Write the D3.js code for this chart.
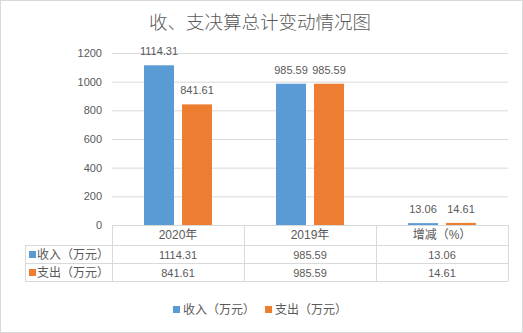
<!DOCTYPE html>
<html>
  <head>
    <meta charset="utf-8">
    <title>收、支决算总计变动情况图</title>
    <script src="https://d3js.org/d3.v7.min.js"></script>
    <style>
      body { margin: 0; background: #fff; }
      text { font-family: "Liberation Sans", "Noto Sans CJK SC", sans-serif; fill: #595959; }
    </style>
  </head>
  <body>
    <script>
      // ==================
      // data
      // ==================
      const categories = ["2020年", "2019年", "增减（%）"];
      const seriesNames = ["收入（万元）", "支出（万元）"];
      const incomeValues = [1114.31, 985.59, 13.06];
      const expenseValues = [841.61, 985.59, 14.61];
      const yTicks = [0, 200, 400, 600, 800, 1000, 1200];
      const seriesColors = ["#5B9BD5", "#ED7D31"];

      function drawChart() {
        const width = 523;
        const height = 333;
        const left = 112, right = 508, top = 53, bottom = 225;
        const rowH = 18;
        const gridColor = "#d9d9d9";
        const cjk = "'Noto Sans CJK SC', sans-serif";

        const series = [incomeValues, expenseValues];

        const svg = d3.select("body")
          .append("svg")
            .attr("width", width)
            .attr("height", height);

        svg.append("rect")
          .attr("x", 0.5).attr("y", 0.5)
          .attr("width", width - 1).attr("height", height - 1)
          .attr("fill", "#fff")
          .attr("stroke", gridColor);

        // title
        svg.append("text")
          .attr("x", 260)
          .attr("y", 29)
          .attr("text-anchor", "middle")
          .style("font-family", cjk)
          .style("font-size", "18.5px")
          .style("font-weight", 300)
          .text("收、支决算总计变动情况图");

        const x0 = d3.scaleBand()
          .domain(categories)
          .range([left, right]);

        const bw = x0.bandwidth();
        const x1 = d3.scaleBand()
          .domain(seriesNames)
          .range([bw / 2 - 34, bw / 2 + 34])
          .paddingInner(8 / 38);

        const y = d3.scaleLinear()
          .domain([0, 1200])
          .range([bottom, top]);

        // gridlines + tick labels
        const yAxis = d3.axisLeft(y)
          .tickValues(yTicks)
          .tickSize(-(right - left))
          .tickPadding(10)
          .tickFormat(d3.format("d"));

        const gy = svg.append("g")
          .attr("transform", "translate(" + left + ",0)")
          .call(yAxis);
        gy.select(".domain").remove();
        gy.selectAll(".tick line").attr("stroke", gridColor);
        gy.selectAll(".tick text")
          .attr("fill", "#595959")
          .style("font-size", "11px");

        // bars
        series.forEach(function(vals, s) {
          const g = svg.append("g");
          g.selectAll("rect")
            .data(vals)
            .enter().append("rect")
              .attr("x", function(d, i) { return x0(categories[i]) + x1(seriesNames[s]); })
              .attr("y", function(d) { return y(d); })
              .attr("width", x1.bandwidth())
              .attr("height", function(d) { return bottom - y(d); })
              .attr("fill", seriesColors[s]);

          g.selectAll("text")
            .data(vals)
            .enter().append("text")
              .attr("x", function(d, i) { return x0(categories[i]) + x1(seriesNames[s]) + x1.bandwidth() / 2; })
              .attr("y", function(d) { return y(d) - 10; })
              .attr("text-anchor", "middle")
              .style("font-size", "11px")
              .text(function(d) { return d.toFixed(2); });
        });

        // data table
        const tableLeft = 25;
        const tableBottom = bottom + 20 + rowH * 2;
        const lines = svg.append("g")
          .attr("stroke", gridColor)
          .attr("shape-rendering", "crispEdges");

        lines.append("line")
          .attr("x1", left).attr("x2", right)
          .attr("y1", bottom).attr("y2", bottom);
        [bottom + 20, bottom + 20 + rowH, tableBottom].forEach(function(yy) {
          lines.append("line")
            .attr("x1", tableLeft).attr("x2", right)
            .attr("y1", yy).attr("y2", yy);
        });
        x0.domain().forEach(function(c) {
          lines.append("line")
            .attr("x1", x0(c)).attr("x2", x0(c))
            .attr("y1", bottom).attr("y2", tableBottom);
        });
        lines.append("line")
          .attr("x1", right).attr("x2", right)
          .attr("y1", bottom).attr("y2", tableBottom);
        lines.append("line")
          .attr("x1", tableLeft).attr("x2", tableLeft)
          .attr("y1", bottom + 20).attr("y2", tableBottom);

        // header row
        svg.append("g").selectAll("text")
          .data(categories)
          .enter().append("text")
            .attr("x", function(d) { return x0(d) + bw / 2; })
            .attr("y", bottom + 14)
            .attr("text-anchor", "middle")
            .style("font-size", "12px")
            .text(function(d) { return d; });

        // value rows
        series.forEach(function(vals, s) {
          const rowY = bottom + 20 + rowH * s;
          svg.append("rect")
            .attr("x", 29).attr("y", rowY + 6)
            .attr("width", 7).attr("height", 7)
            .attr("fill", seriesColors[s]);
          svg.append("text")
            .attr("x", 37).attr("y", rowY + 13.5)
            .style("font-family", cjk)
            .style("font-size", "12px")
            .text(seriesNames[s]);
          svg.append("g").selectAll("text")
            .data(vals)
            .enter().append("text")
              .attr("x", function(d, i) { return x0(categories[i]) + bw / 2; })
              .attr("y", rowY + 13.5)
              .attr("text-anchor", "middle")
              .style("font-size", "11px")
              .text(function(d) { return d.toFixed(2); });
        });

        // legend
        const legendX = [173, 265];
        seriesNames.forEach(function(name, s) {
          svg.append("rect")
            .attr("x", legendX[s]).attr("y", 306)
            .attr("width", 7).attr("height", 7)
            .attr("fill", seriesColors[s]);
          svg.append("text")
            .attr("x", legendX[s] + 10).attr("y", 314)
            .style("font-family", cjk)
            .style("font-size", "12px")
            .text(name);
        });
      }
      drawChart();
    </script>
  </body>
</html>
